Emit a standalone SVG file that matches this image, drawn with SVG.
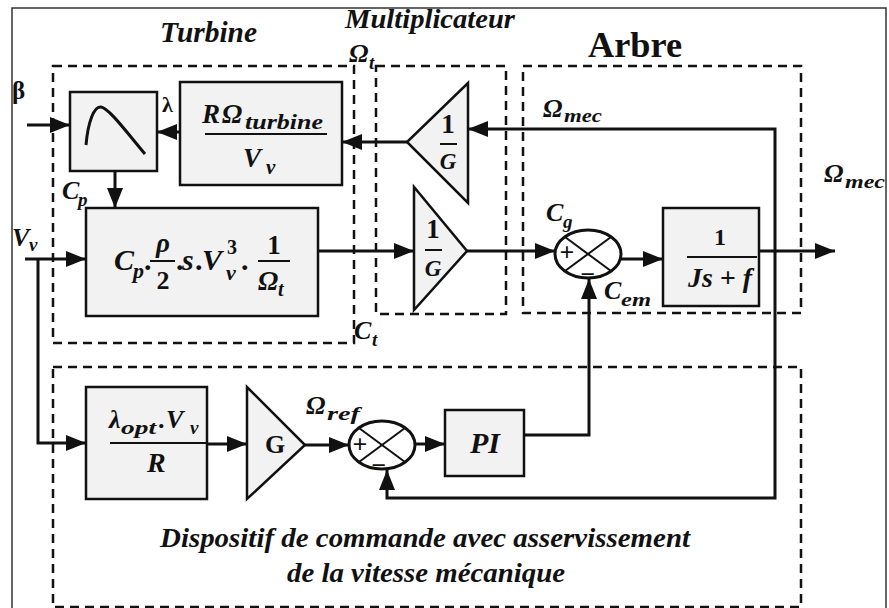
<svg xmlns="http://www.w3.org/2000/svg" width="889" height="608" viewBox="0 0 889 608">
<defs>
<style>
.frame{fill:#fff;stroke:#333;stroke-width:1.5}
.dash{fill:none;stroke:#111;stroke-width:2.5;stroke-dasharray:9 6}
.blk{fill:#f2f2f2;stroke:#111;stroke-width:2.5}
.ln{fill:none;stroke:#111;stroke-width:3}
.thin{fill:none;stroke:#111;stroke-width:2}
.bar{stroke:#111;stroke-width:2}
.t{font-family:"Liberation Serif","Times New Roman",serif;font-weight:bold;fill:#111}
.i{font-style:italic}
.m{text-anchor:middle}
</style>
<marker id="ah" viewBox="0 0 20 16" refX="20" refY="8" markerWidth="20" markerHeight="16" orient="auto" markerUnits="userSpaceOnUse">
<path d="M0,0 L20,8 L0,16 z" fill="#111"/>
</marker>
</defs>
<rect class="frame" x="12" y="8" width="874" height="606"/>

<g id="zones">
<rect class="dash" x="53" y="66" width="301" height="277"/>
<rect class="dash" x="376" y="66" width="130" height="248"/>
<rect class="dash" x="523" y="66" width="278" height="247"/>
<rect class="dash" x="53" y="367" width="748" height="240"/>
<text class="t i" x="160" y="42" font-size="30" textLength="97" lengthAdjust="spacingAndGlyphs">Turbine</text>
<text class="t i" x="345" y="28" font-size="27" textLength="170" lengthAdjust="spacingAndGlyphs">Multiplicateur</text>
<text class="t" x="588" y="57" font-size="36" textLength="94" lengthAdjust="spacingAndGlyphs">Arbre</text>
<text class="t i" x="160" y="547" font-size="28" textLength="530" lengthAdjust="spacingAndGlyphs">Dispositif de commande avec asservissement</text>
<text class="t i" x="287" y="582" font-size="28" textLength="278" lengthAdjust="spacingAndGlyphs">de la vitesse mécanique</text>
</g>

<g id="cp-curve">
<rect class="blk" x="70" y="92" width="87" height="79"/>
<path class="ln" d="M86,145 C88,122 94,106 101,107 C109,108 128,134 145,154"/>
</g>

<g id="lambda-calc">
<rect class="blk" x="180" y="82" width="162" height="103"/>
<text class="t i" font-size="27"><tspan x="202" y="123">R</tspan><tspan x="222" y="123">Ω</tspan><tspan x="245" y="129" font-size="21" textLength="78" lengthAdjust="spacingAndGlyphs">turbine</tspan></text>
<line class="bar" x1="205" y1="134" x2="327" y2="134"/>
<text class="t i" font-size="27"><tspan x="243" y="167">V</tspan><tspan x="266" y="174" font-size="21">v</tspan></text>
</g>

<g id="power-block">
<rect class="blk" x="86" y="208" width="232" height="108"/>
<text class="t i" font-size="30"><tspan x="114" y="270">C</tspan><tspan x="133" y="278" font-size="22">p</tspan><tspan x="144" y="270" font-style="normal">.</tspan></text>
<text class="t i m" x="163" y="252" font-size="27">ρ</text>
<line class="bar" x1="150" y1="261" x2="175" y2="261"/>
<text class="t m" x="163" y="289" font-size="26">2</text>
<text class="t i" font-size="30"><tspan x="176" y="270" font-style="normal">.</tspan><tspan x="182" y="270">s</tspan><tspan x="195" y="270" font-style="normal">.</tspan><tspan x="202" y="270">V</tspan></text>
<text class="t" x="227" y="254" font-size="20">3</text>
<text class="t i" x="226" y="280" font-size="22">v</text>
<text class="t" x="241" y="270" font-size="30">.</text>
<text class="t m" x="274" y="254" font-size="27">1</text>
<line class="bar" x1="258" y1="261" x2="290" y2="261"/>
<text class="t i" font-size="27"><tspan x="258" y="290">Ω</tspan><tspan x="278" y="296" font-size="20">t</tspan></text>
</g>

<g id="gain-upper">
<polygon class="blk" points="468,83 468,203 407,142"/>
<text class="t m" x="448" y="133" font-size="27">1</text>
<line class="bar" x1="440" y1="144" x2="457" y2="144"/>
<text class="t i m" x="448" y="169" font-size="23">G</text>
</g>

<g id="gain-lower">
<polygon class="blk" points="414,187 414,310 467,251"/>
<text class="t m" x="433" y="238" font-size="27">1</text>
<line class="bar" x1="425" y1="250" x2="442" y2="250"/>
<text class="t i m" x="433" y="276" font-size="23">G</text>
</g>

<g id="sum-torque">
<ellipse class="ln" cx="588" cy="254" rx="33" ry="24" fill="none"/>
<line class="thin" x1="565" y1="237" x2="611" y2="271"/>
<line class="thin" x1="565" y1="271" x2="611" y2="237"/>
<text class="t m" x="567" y="261" font-size="26">+</text>
<text class="t m" x="588" y="283" font-size="26">−</text>
</g>

<g id="transfer">
<rect class="blk" x="663" y="208" width="96" height="98"/>
<text class="t m" x="720" y="245" font-size="24">1</text>
<line class="bar" x1="687" y1="257" x2="757" y2="257"/>
<text class="t i" x="688" y="287" font-size="27" textLength="64" lengthAdjust="spacingAndGlyphs">Js + f</text>
</g>

<g id="lambda-opt">
<rect class="blk" x="86" y="387" width="121" height="112"/>
<text class="t i" font-size="26"><tspan x="109" y="428">λ</tspan><tspan x="121" y="434" font-size="19" textLength="35" lengthAdjust="spacingAndGlyphs">opt</tspan><tspan x="158" y="428" font-style="normal">.</tspan><tspan x="166" y="428">V</tspan><tspan x="190" y="434" font-size="19">v</tspan></text>
<line class="bar" x1="110" y1="443" x2="207" y2="443"/>
<text class="t i" x="147" y="472" font-size="28">R</text>
</g>

<g id="gain-G">
<polygon class="blk" points="247,387 247,499 305,445"/>
<text class="t m" x="275" y="453" font-size="26">G</text>
</g>

<g id="sum-speed">
<ellipse class="ln" cx="382" cy="445" rx="33" ry="24" fill="none"/>
<line class="thin" x1="359" y1="428" x2="405" y2="462"/>
<line class="thin" x1="359" y1="462" x2="405" y2="428"/>
<text class="t m" x="360" y="453" font-size="26">+</text>
<text class="t m" x="379" y="474" font-size="26">−</text>
</g>

<g id="pi">
<rect class="blk" x="445" y="410" width="79" height="66"/>
<text class="t i m" x="485" y="453" font-size="30">PI</text>
</g>

<g id="labels">
<text class="t" x="12" y="99" font-size="25">β</text>
<text class="t" x="162" y="112" font-size="22">λ</text>
<text class="t i" font-size="26"><tspan x="349" y="62">Ω</tspan><tspan x="369" y="69" font-size="19">t</tspan></text>
<text class="t i" font-size="26"><tspan x="62" y="199">C</tspan><tspan x="78" y="206" font-size="19">p</tspan></text>
<text class="t i" font-size="26"><tspan x="12" y="246">V</tspan><tspan x="29" y="251" font-size="19">v</tspan></text>
<text class="t i" font-size="26"><tspan x="543" y="117">Ω</tspan><tspan x="564" y="122" font-size="19" textLength="38" lengthAdjust="spacingAndGlyphs">mec</tspan></text>
<text class="t i" font-size="26"><tspan x="824" y="182">Ω</tspan><tspan x="845" y="188" font-size="19" textLength="40" lengthAdjust="spacingAndGlyphs">mec</tspan></text>
<text class="t i" font-size="26"><tspan x="546" y="221">C</tspan><tspan x="563" y="228" font-size="19">g</tspan></text>
<text class="t i" font-size="26"><tspan x="604" y="299">C</tspan><tspan x="621" y="306" font-size="19" textLength="30" lengthAdjust="spacingAndGlyphs">em</tspan></text>
<text class="t i" font-size="26"><tspan x="354" y="339">C</tspan><tspan x="372" y="346" font-size="19">t</tspan></text>
<text class="t i" font-size="26"><tspan x="306" y="414">Ω</tspan><tspan x="327" y="420" font-size="19" textLength="33" lengthAdjust="spacingAndGlyphs">ref</tspan></text>
</g>

<g id="connectors">
<path class="ln" d="M27,125 H70" marker-end="url(#ah)"/>
<path class="ln" d="M180,132 H157" marker-end="url(#ah)"/>
<path class="ln" d="M115,171 V208" marker-end="url(#ah)"/>
<path class="ln" d="M25,259 H86" marker-end="url(#ah)"/>
<path class="ln" d="M38,259 V443 H86" marker-end="url(#ah)"/>
<path class="ln" d="M318,251 H414" marker-end="url(#ah)"/>
<path class="ln" d="M467,251 H555" marker-end="url(#ah)"/>
<path class="ln" d="M621,259 H663" marker-end="url(#ah)"/>
<path class="ln" d="M759,251 H835" marker-end="url(#ah)"/>
<path class="ln" d="M775,251 V129 H468" marker-end="url(#ah)"/>
<path class="ln" d="M775,251 V498 H387 V470" marker-end="url(#ah)"/>
<path class="ln" d="M407,142 H342" marker-end="url(#ah)"/>
<path class="ln" d="M207,444 H247" marker-end="url(#ah)"/>
<path class="ln" d="M305,445 H349" marker-end="url(#ah)"/>
<path class="ln" d="M415,444 H445" marker-end="url(#ah)"/>
<path class="ln" d="M524,435 H589 V279" marker-end="url(#ah)"/>
</g>
</svg>
